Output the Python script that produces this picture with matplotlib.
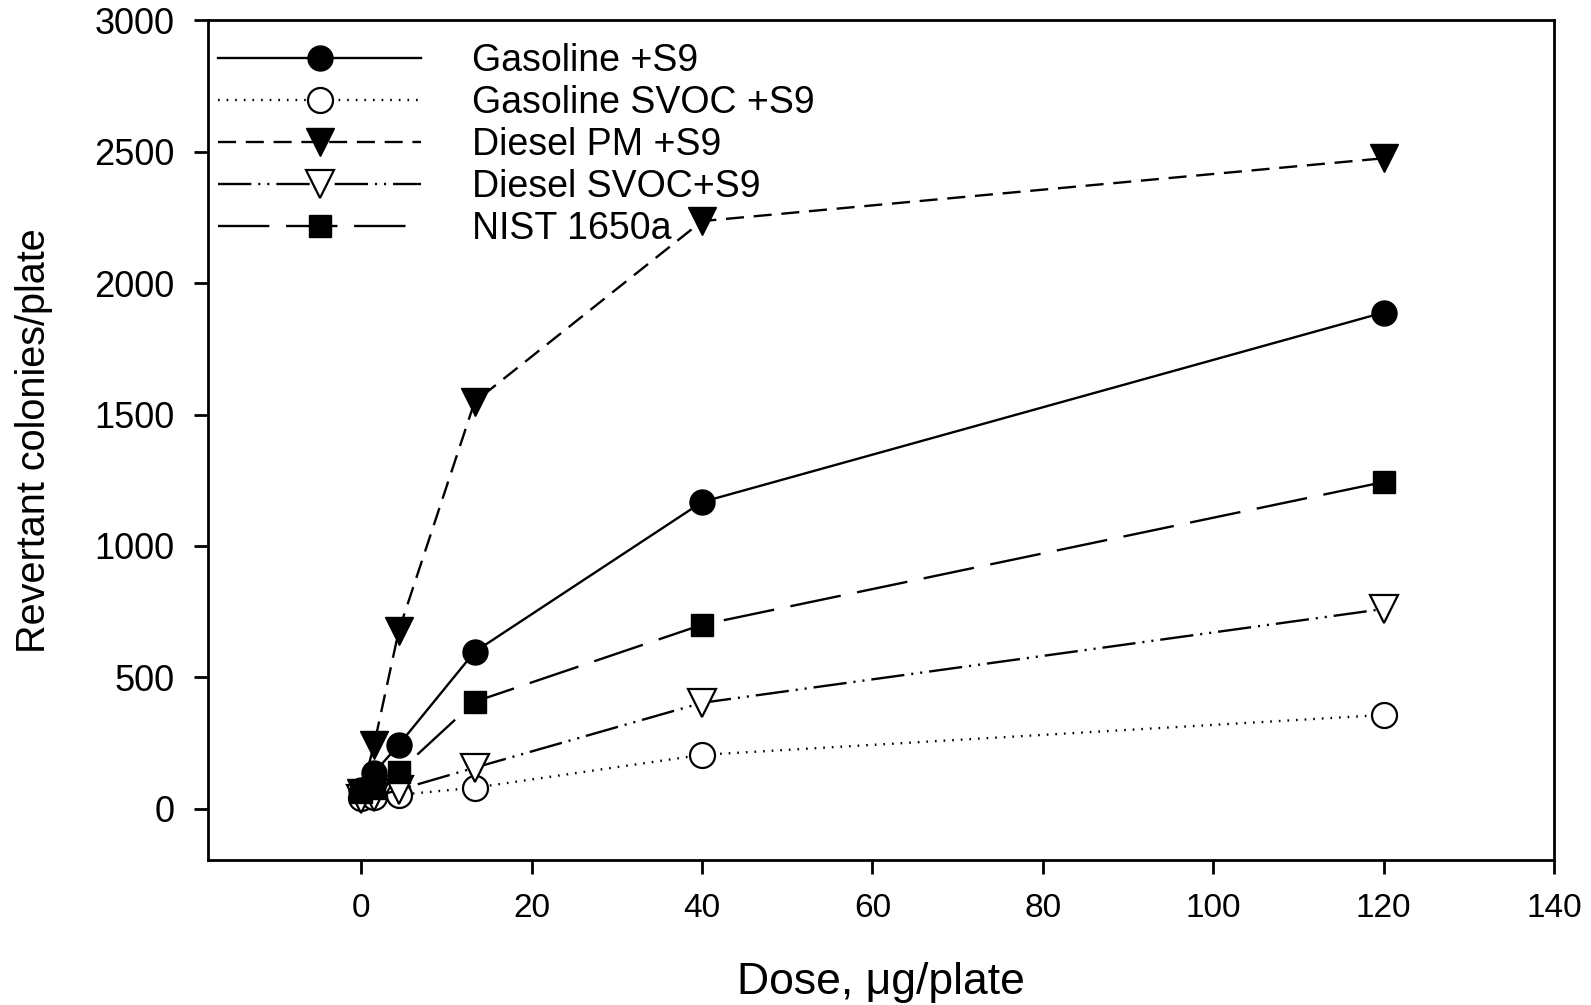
import matplotlib
matplotlib.use("Agg")
import matplotlib.pyplot as plt

plt.rcParams["font.family"] = ["Liberation Sans", "DejaVu Sans"]
plt.rcParams["lines.scale_dashes"] = False

# dose levels, ug/plate
dose = [0, 1.5, 4.4, 13.3, 40, 120]

# revertant colonies/plate per sample
gasoline = [70, 137, 243, 597, 1167, 1888]
gasoline_svoc = [40, 45, 53, 80, 205, 357]
diesel_pm = [60, 243, 677, 1548, 2236, 2475]
diesel_svoc = [38, 45, 72, 156, 403, 760]
nist = [65, 80, 141, 407, 700, 1243]

labels = ["Gasoline +S9", "Gasoline SVOC +S9", "Diesel PM +S9",
          "Diesel SVOC+S9", "NIST 1650a"]

fig = plt.figure(figsize=(15.91, 10.05), dpi=100)
ax = fig.add_axes([0.1307, 0.1443, 0.8460, 0.8355])

lw = 1.7
ax.plot(dose, gasoline, color="black", lw=lw, ls="-", marker="o", ms=18,
        mfc="black", mec="black", label=labels[0])
ax.plot(dose, gasoline_svoc, color="black", lw=lw, ls=(0, (1.2, 5)), marker="o", ms=18,
        mfc="white", mec="black", mew=1.6, label=labels[1])
ax.plot(dose, diesel_pm, color="black", lw=lw, ls=(0, (13, 7)), marker="v", ms=20,
        mfc="black", mec="black", label=labels[2])
ax.plot(dose, diesel_svoc, color="black", lw=lw, ls=(0, (24, 5, 1.5, 5, 1.5, 5)), marker="v", ms=20,
        mfc="white", mec="black", mew=1.6, label=labels[3])
ax.plot(dose, nist, color="black", lw=lw, ls=(0, (37, 12)), marker="s", ms=16,
        mfc="black", mec="black", label=labels[4])

ax.set_xlim(-18, 140)
ax.set_ylim(-195, 3000)
ax.set_xticks(range(0, 141, 20))
ax.set_yticks(range(0, 3001, 500))

for s in ax.spines.values():
    s.set_linewidth(2)
ax.tick_params(direction="out", length=10, width=2, pad=14)
ax.tick_params(axis="x", labelsize=24)
ax.tick_params(axis="y", labelsize=26)

ax.set_xlabel("Dose, \u03bcg/plate", fontsize=32, labelpad=27)
ax.set_ylabel("Revertant colonies/plate", fontsize=28.5, labelpad=30)

leg = ax.legend(loc="upper left", bbox_to_anchor=(-0.009, 1), frameon=False, fontsize=27,
                handlelength=5.4, handletextpad=1.36, labelspacing=0.16,
                borderaxespad=0.2, borderpad=0.4, numpoints=1)

plt.savefig("out.png", dpi=100)
plt.close()
